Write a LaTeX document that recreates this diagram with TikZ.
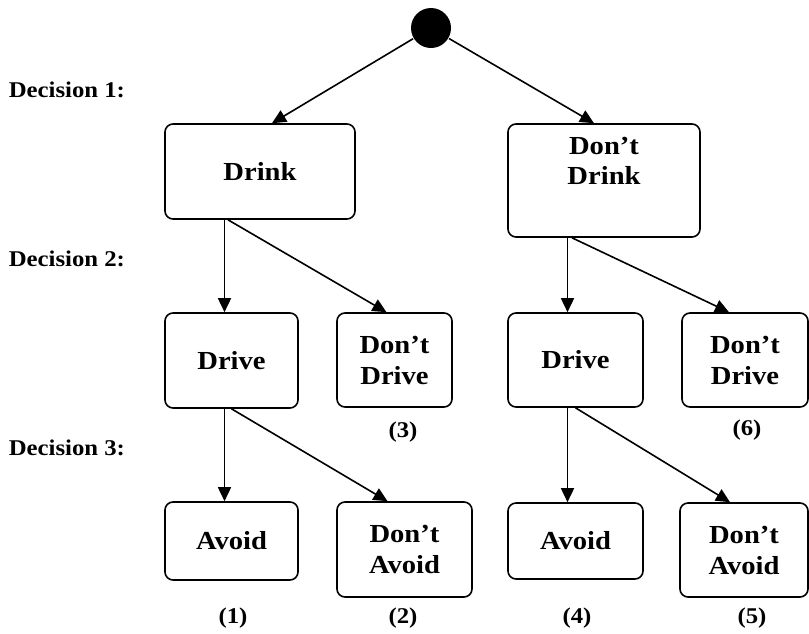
\documentclass[tikz,border=0pt]{standalone}
\usepackage{fontspec}
\setmainfont{Liberation Serif}[FakeStretch=1.1]
\usepackage{tikz}
\usetikzlibrary{positioning,arrows.meta}
\tikzset{>={Triangle[width=13pt,length=14pt]}}
\newcommand*{\boxfont}{\fontsize{26}{31}\selectfont\bfseries}
\newcommand*{\lblfont}{\fontsize{22.5}{26}\selectfont\bfseries}

\begin{document}
\begin{tikzpicture}[x=1pt,y=-1pt,line width=1.6pt,
  choice/.style={draw,rounded corners=8pt,align=center,inner sep=2pt,font=\boxfont},
  lbl/.style={font=\lblfont,inner sep=0pt}]
\useasboundingbox (0,0) rectangle (809,633);
% Root of the tree
\node[circle,fill,minimum size=40pt,inner sep=0pt] (root) at (431,28) {};
% Decision levels
\node[lbl,anchor=west] (dec1) at (8,90) {Decision 1:};
\node[lbl,anchor=west] (dec2) at (8,259) {Decision 2:};
\node[lbl,anchor=west] (dec3) at (8,448) {Decision 3:};
% Decision 1
\node[choice,minimum width=190pt,minimum height=95pt] (drink) at (260,171.5) {Drink};
\node[choice,minimum width=192pt,minimum height=113pt] (nodrink) at (604,180.5) {Don't\\[-1pt]Drink\\[8pt]};
\draw[->] (root) -- ([xshift=12pt]drink.north);
\draw[->] (root) -- ([xshift=-10pt]nodrink.north);
% Decision 2
\node[choice,minimum width=133pt,minimum height=95pt] (drivea) at (231.5,360.5) {Drive};
\node[choice,minimum width=115pt,minimum height=94pt] (nodrivea) at (394.5,360) {Don't\\Drive};
\node[choice,minimum width=135pt,minimum height=94pt] (driveb) at (575.5,360) {Drive};
\node[choice,minimum width=126pt,minimum height=94pt] (nodriveb) at (745,360) {Don't\\Drive};
\draw[->] ([xshift=-7pt]drivea.north |- drink.south) -- ([xshift=-7pt]drivea.north);
\draw[->] ([xshift=-32pt]drink.south) -- ([xshift=-8pt]nodrivea.north);
\draw[->] ([xshift=-8pt]driveb.north |- nodrink.south) -- ([xshift=-8pt]driveb.north);
\draw[->] ([xshift=-32pt]nodrink.south) -- ([xshift=-16pt]nodriveb.north);
% Decision 3
\node[choice,minimum width=133pt,minimum height=78pt] (avoida) at (231.5,541) {Avoid};
\node[choice,minimum width=135pt,minimum height=95pt] (noavoida) at (404.5,549.5) {Don't\\Avoid};
\node[choice,minimum width=135pt,minimum height=76pt] (avoidb) at (575.5,541) {Avoid};
\node[choice,minimum width=128pt,minimum height=94pt] (noavoidb) at (744,550) {Don't\\Avoid};
\draw[->] ([xshift=-7pt]drivea.south) -- ([xshift=-7pt]drivea.south |- avoida.north);
\draw[->] (drivea.south) -- ([xshift=-17pt]noavoida.north);
\draw[->] ([xshift=-8pt]driveb.south) -- ([xshift=-8pt]driveb.south |- avoidb.north);
\draw[->] (driveb.south) -- ([xshift=-14pt]noavoidb.north);
% Outcomes
\node[lbl] (out1) at (233,618) {(1)};
\node[lbl] (out2) at (403,618) {(2)};
\node[lbl] (out3) at (403,432) {(3)};
\node[lbl] (out4) at (577,618) {(4)};
\node[lbl] (out5) at (752,618) {(5)};
\node[lbl] (out6) at (747,430) {(6)};
\end{tikzpicture}
\end{document}
